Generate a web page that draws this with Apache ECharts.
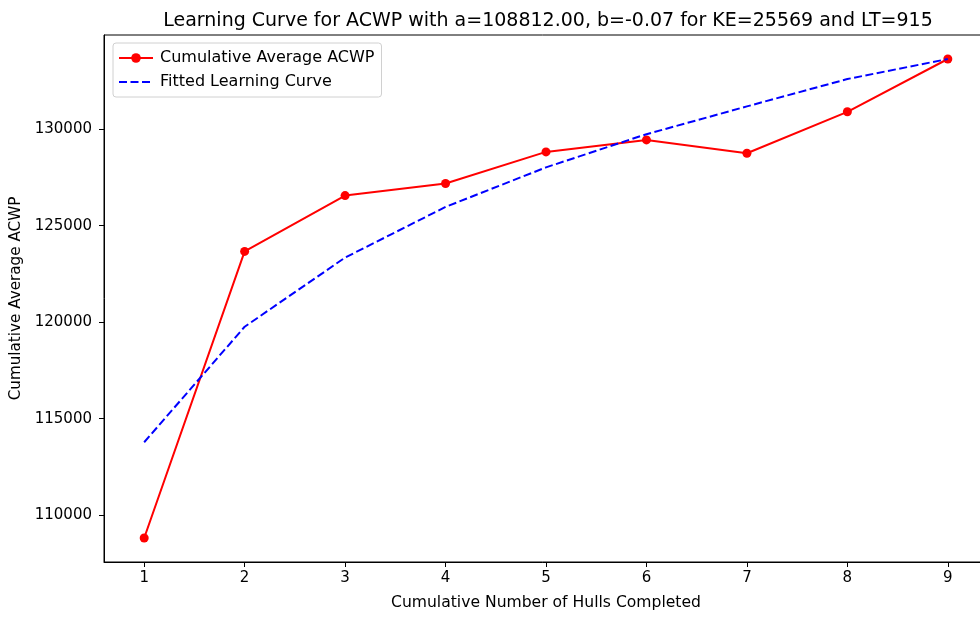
<!DOCTYPE html>
<html>
<head>
<meta charset="utf-8">
<script src="https://cdn.jsdelivr.net/npm/echarts@6/dist/echarts.min.js"></script>
<style>
html,body{margin:0;padding:0;background:#fff;}
#chart{width:980px;height:617px;}
</style>
</head>
<body>
<div id="chart"></div>
<script>
var hulls = [1, 2, 3, 4, 5, 6, 7, 8, 9];
var cumulativeAvg = [108812, 123665, 126558, 127182, 128821, 129444, 128753, 130900, 133636];
var fittedCurve = [113777, 119760, 123345, 125970, 128020, 129740, 131180, 132597, 133636];
var xTicks = [1, 2, 3, 4, 5, 6, 7, 8, 9];
var yTicks = [110000, 115000, 120000, 125000, 130000];
var titleText = 'Learning Curve for ACWP with a=108812.00, b=-0.07 for KE=25569 and LT=915';

var font = 'DejaVu Sans';
var chart = echarts.init(document.getElementById('chart'), null, {renderer: 'canvas'});

function pairs(xs, ys) { return xs.map(function (x, i) { return [x, ys[i]]; }); }

chart.setOption({
  animation: false,
  backgroundColor: '#fff',
  title: {
    text: titleText,
    left: 543, textAlign: 'center', top: 7,
    textStyle: {fontFamily: font, fontSize: 19, fontWeight: 'normal', color: '#000'}
  },
  legend: {
    left: 113, top: 43, orient: 'vertical',
    padding: [7, 7, 7, 5],
    itemWidth: 34, itemHeight: 12, itemGap: 8,
    borderColor: '#d0d0d0', borderWidth: 1, borderRadius: 3,
    backgroundColor: 'rgba(255,255,255,0.8)',
    textStyle: {fontFamily: font, fontSize: 16, color: '#000', padding: [0, 0, 0, 2]},
    data: [
      {name: 'Cumulative Average ACWP'},
      {name: 'Fitted Learning Curve', itemStyle: {opacity: 0}}
    ]
  },
  grid: {
    left: 104, width: 884, top: 35, bottom: 55,
    outerBoundsMode: 'none', containLabel: false,
    show: true, borderColor: '#000', borderWidth: 1, backgroundColor: 'transparent'
  },
  xAxis: {
    type: 'value', min: 0.6, max: 9.4,
    name: 'Cumulative Number of Hulls Completed',
    nameLocation: 'middle', nameGap: 33,
    nameTextStyle: {fontFamily: font, fontSize: 15.6, color: '#000'},
    axisLine: {show: true, onZero: false, lineStyle: {color: '#000', width: 1}},
    axisTick: {show: true, length: 5, inside: false, customValues: xTicks, lineStyle: {color: '#000'}},
    axisLabel: {customValues: xTicks, margin: 9, fontFamily: font, fontSize: 15, color: '#000'},
    splitLine: {show: false}
  },
  yAxis: {
    type: 'value', min: 107570, max: 134880,
    name: 'Cumulative Average ACWP',
    nameLocation: 'middle', nameGap: 77, nameRotate: 90,
    nameTextStyle: {fontFamily: font, fontSize: 15.2, color: '#000'},
    axisLine: {show: true, onZero: false, lineStyle: {color: '#000', width: 1}},
    axisTick: {show: true, length: 5, inside: false, customValues: yTicks, lineStyle: {color: '#000'}},
    axisLabel: {customValues: yTicks, margin: 12, fontFamily: font, fontSize: 15, color: '#000',
      formatter: function (v) { return String(v); }},
    splitLine: {show: false}
  },
  series: [
    {
      name: 'Cumulative Average ACWP',
      type: 'line',
      data: pairs(hulls, cumulativeAvg),
      symbol: 'circle', symbolSize: 9,
      itemStyle: {color: '#ff0000'},
      lineStyle: {color: '#ff0000', width: 2},
      z: 3
    },
    {
      name: 'Fitted Learning Curve',
      type: 'line',
      data: pairs(hulls, fittedCurve),
      symbol: 'none', showSymbol: false,
      itemStyle: {color: '#0000ff'},
      lineStyle: {color: '#0000ff', width: 2, type: [8, 3.5]},
      z: 4
    }
  ]
});
</script>
</body>
</html>
